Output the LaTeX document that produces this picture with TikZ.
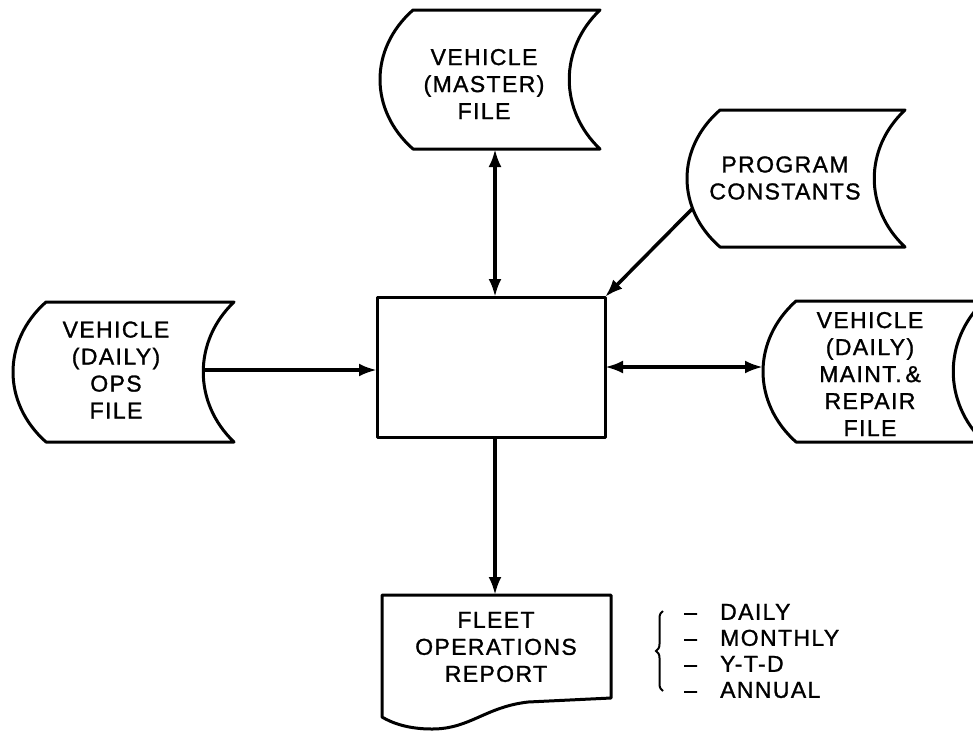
\documentclass[tikz,border=0pt]{standalone}
\usepackage{fontspec}
\setmainfont{Liberation Sans}[LetterSpace=6,FakeBold=1.2]
\usetikzlibrary{arrows.meta,decorations.pathreplacing,calc}
\newcommand\tapepath[4]{%
  \draw[shapeline] (#1,#3) -- (#2,#3)
    .. controls ({#2-41},{#3+0.28*(#4-#3)}) and ({#2-41},{#3+0.72*(#4-#3)}) .. (#2,#4)
    -- (#1,#4)
    .. controls ({#1-44},{#3+0.72*(#4-#3)}) and ({#1-44},{#3+0.28*(#4-#3)}) .. (#1,#3) -- cycle;}
\begin{document}
\begin{tikzpicture}[x=1pt,y=-1pt,
  shapeline/.style={line width=3pt, line join=round},
  conn/.style={line width=3.5pt},
  onetip/.style={conn, -{Latex[length=18pt,width=13pt]}},
  twotip/.style={conn, {Latex[length=18pt,width=13pt]}-{Latex[length=18pt,width=13pt]}},
  lbl/.style={align=center, font=\fontsize{23}{27}\selectfont, inner sep=0pt}]
\useasboundingbox (0,0) rectangle (973,732);

% stored-data (tape) shapes
\tapepath{413}{600}{10}{149}
\tapepath{46}{234}{302}{442}
\tapepath{720}{905}{110}{247}
\tapepath{796}{984}{301}{442}

% texts
\node[lbl] (master) at (484,84) {VEHICLE\\(MASTER)\\FILE};
\node[lbl] (ops) at (116,370) {VEHICLE\\(DAILY)\\OPS\\FILE};
\node[lbl] (prog) at (785,178) {PROGRAM\\CONSTANTS};
\node[lbl] (maint) at (870,374) {VEHICLE\\(DAILY)\\MAINT.\,\&\\REPAIR\\FILE};

% process box
\node[draw, shapeline, minimum width=228pt, minimum height=140pt, outer sep=0pt] (proc) at (491,367) {};

% report document
\draw[shapeline] (382,595) -- (611,595) -- (611,698) -- (528,702)
  .. controls (485,707) and (470,729) .. (432,729)
  .. controls (408,729) and (392,723) .. (382,717) -- cycle;
\node[lbl] (rep) at (496,647) {FLEET\\OPERATIONS\\REPORT};

% connection points
\coordinate (mS) at (495,149);
\coordinate (opsE) at (203,370);
\coordinate (pcW) at (692,209);
\coordinate (maintW) at (763,367);
\coordinate (repN) at (495,595);

% connectors
\draw[twotip] (mS) -- (mS |- proc.north);
\draw[onetip] (pcW) -- (proc.north east);
\draw[onetip] (opsE) -- (opsE -| proc.west);
\draw[twotip] (proc.east) -- (maintW);
\draw[onetip] (repN |- proc.south) -- (repN);

% brace and list
\draw[line width=2pt, decorate, decoration={brace, amplitude=7pt}] (663,691) -- (663,611);
\node[lbl, align=left, anchor=west, font=\fontsize{23}{26}\selectfont] (items) at (684,651)
  {\makebox[36pt][l]{--}DAILY\\\makebox[36pt][l]{--}MONTHLY\\\makebox[36pt][l]{--}Y-T-D\\\makebox[36pt][l]{--}ANNUAL};
\end{tikzpicture}
\end{document}
